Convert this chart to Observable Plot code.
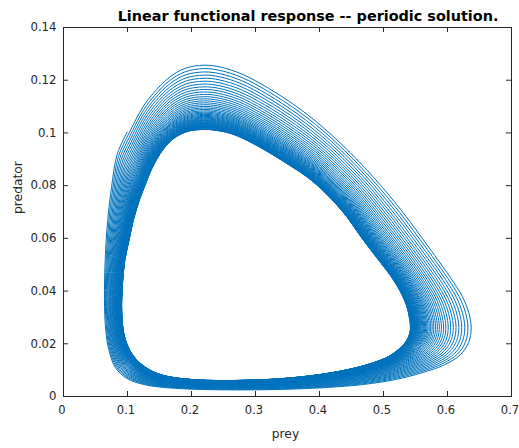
<!DOCTYPE html>
<html>
<head>
<meta charset="utf-8">
<script src="https://cdn.jsdelivr.net/npm/d3@7"></script>
<script src="https://cdn.jsdelivr.net/npm/@observablehq/plot@0.6"></script>
<style>
  body { margin: 0; background: #fff; }
</style>
</head>
<body>
<div id="chart"></div>
<script>
// First (outermost) turn of the trajectory, counter-clockwise from the start point (0.1, 0.1).
const firstTurnPrey = [0.0995, 0.0840, 0.0750, 0.0690, 0.0655, 0.0640, 0.0652, 0.0700, 0.0810, 0.0995,
  0.1230, 0.1500, 0.2000, 0.2700, 0.3400, 0.4100, 0.4700, 0.5200, 0.5600, 0.5950,
  0.6200, 0.6330, 0.6370, 0.6330, 0.6230, 0.6050, 0.5800, 0.5500, 0.5200, 0.4750,
  0.4200, 0.3700, 0.3200, 0.2800, 0.2450, 0.2200, 0.1900, 0.1650, 0.1420, 0.1250];
const firstTurnPred = [0.1003, 0.0920, 0.0793, 0.0668, 0.0540, 0.0402, 0.0277, 0.0186, 0.0110, 0.0068,
  0.0047, 0.0036, 0.0028, 0.0025, 0.0027, 0.0034, 0.0046, 0.0065, 0.0090, 0.0120,
  0.0158, 0.0205, 0.0260, 0.0320, 0.0380, 0.0450, 0.0535, 0.0635, 0.0730, 0.0857,
  0.0990, 0.1090, 0.1170, 0.1222, 0.1250, 0.1257, 0.1245, 0.1210, 0.1155, 0.1102];

// The periodic orbit the trajectory settles onto, at the same phases.
const cyclePrey = [0.128, 0.1185, 0.109, 0.103, 0.096, 0.092, 0.091, 0.095, 0.106, 0.123,
  0.142, 0.165, 0.210, 0.270, 0.330, 0.390, 0.440, 0.480, 0.508, 0.525,
  0.536, 0.541, 0.542, 0.540, 0.536, 0.527, 0.512, 0.490, 0.468, 0.435,
  0.390, 0.345, 0.300, 0.265, 0.238, 0.218, 0.193, 0.170, 0.152, 0.138];
const cyclePred = [0.0805, 0.0745, 0.0668, 0.0600, 0.0520, 0.0420, 0.0320, 0.0230, 0.0165, 0.0120,
  0.0092, 0.0075, 0.0063, 0.0061, 0.0066, 0.0080, 0.0100, 0.0125, 0.0152, 0.0182,
  0.0212, 0.0240, 0.0268, 0.0305, 0.0345, 0.0395, 0.0455, 0.0525, 0.0595, 0.0705,
  0.0815, 0.0890, 0.0955, 0.0995, 0.1010, 0.1013, 0.1005, 0.0975, 0.0925, 0.0865];

// How far each successive turn still lies from the periodic orbit (1 = first turn, 0 = on the orbit).
const turnSpread = [1.0000, 0.9466, 0.8949, 0.8451, 0.7970, 0.7507, 0.7061, 0.6634, 0.6224, 0.5833,
  0.5459, 0.5102, 0.4764, 0.4443, 0.4141, 0.3856, 0.3589, 0.3339, 0.3108, 0.2894,
  0.2698, 0.2520, 0.2351, 0.2191, 0.2039, 0.1897, 0.1763, 0.1638, 0.1523, 0.1416,
  0.1309, 0.1211, 0.1113, 0.1024, 0.0935, 0.0855, 0.0775, 0.0703, 0.0632, 0.0570,
  0.0508, 0.0454, 0.0401, 0.0347, 0.0303, 0.0258, 0.0214, 0.0178, 0.0142, 0.0107,
  0.0080, 0.0053, 0.0036, 0.0018, 0.0000];

const xTicks = [0, 0.1, 0.2, 0.3, 0.4, 0.5, 0.6, 0.7];
const yTicks = [0, 0.02, 0.04, 0.06, 0.08, 0.1, 0.12, 0.14];

const titleText = "Linear functional response -- periodic solution.";
const xLabel = "prey";
const yLabel = "predator";

// Chain the turns into one continuous (prey, predator) path.
const trajectory = [];
turnSpread.forEach(f => {
  firstTurnPrey.forEach((p, i) => {
    trajectory.push({
      prey: cyclePrey[i] + f * (p - cyclePrey[i]),
      predator: cyclePred[i] + f * (firstTurnPred[i] - cyclePred[i])
    });
  });
});

const W = 519, H = 448;
const mL = 63, mR = 8, mT = 27, mB = 52;
const frameW = W - mL - mR, frameH = H - mT - mB;
const tickLen = 5;
const ink = "#262626";
const lineBlue = "#0072BD";
const font = "'DejaVu Sans', Verdana, sans-serif";

const chart = Plot.plot({
  width: W,
  height: H,
  marginLeft: mL,
  marginRight: mR,
  marginTop: mT,
  marginBottom: mB,
  style: {fontFamily: font, fontSize: "11.5px", color: ink, background: "#fff"},
  x: {domain: [0, 0.7]},
  y: {domain: [0, 0.14]},
  marks: [
    Plot.line(trajectory, {x: "prey", y: "predator", curve: "catmull-rom", stroke: lineBlue, strokeWidth: 1}),
    Plot.frame({stroke: ink, strokeWidth: 1}),
    // inward ticks on all four sides
    Plot.tickX(xTicks, {x: d => d, insetTop: frameH - tickLen, stroke: ink}),
    Plot.tickX(xTicks, {x: d => d, insetBottom: frameH - tickLen, stroke: ink}),
    Plot.tickY(yTicks, {y: d => d, insetRight: frameW - tickLen, stroke: ink}),
    Plot.tickY(yTicks, {y: d => d, insetLeft: frameW - tickLen, stroke: ink}),
    Plot.axisX(xTicks, {tickSize: 0, tickPadding: 9, dx: -1.5, tickFormat: d => String(d), fontSize: 11.5, fill: ink, label: null}),
    Plot.axisY(yTicks, {tickSize: 0, tickPadding: 7, tickFormat: d => String(d), fontSize: 11.7, fill: ink, label: null}),
    Plot.text([titleText], {frameAnchor: "top", lineAnchor: "middle", dx: 20.5, dy: -11, fontWeight: "bold", fontSize: 14.4, fill: "#000"}),
    Plot.text([xLabel], {frameAnchor: "bottom", lineAnchor: "middle", dx: -2, dy: 38, fontSize: 12.3, fill: ink}),
    Plot.text([yLabel], {frameAnchor: "left", lineAnchor: "middle", dx: -45, dy: 2, rotate: -90, fontSize: 12.3, fill: ink})
  ]
});

document.getElementById("chart").appendChild(chart);
</script>
</body>
</html>
